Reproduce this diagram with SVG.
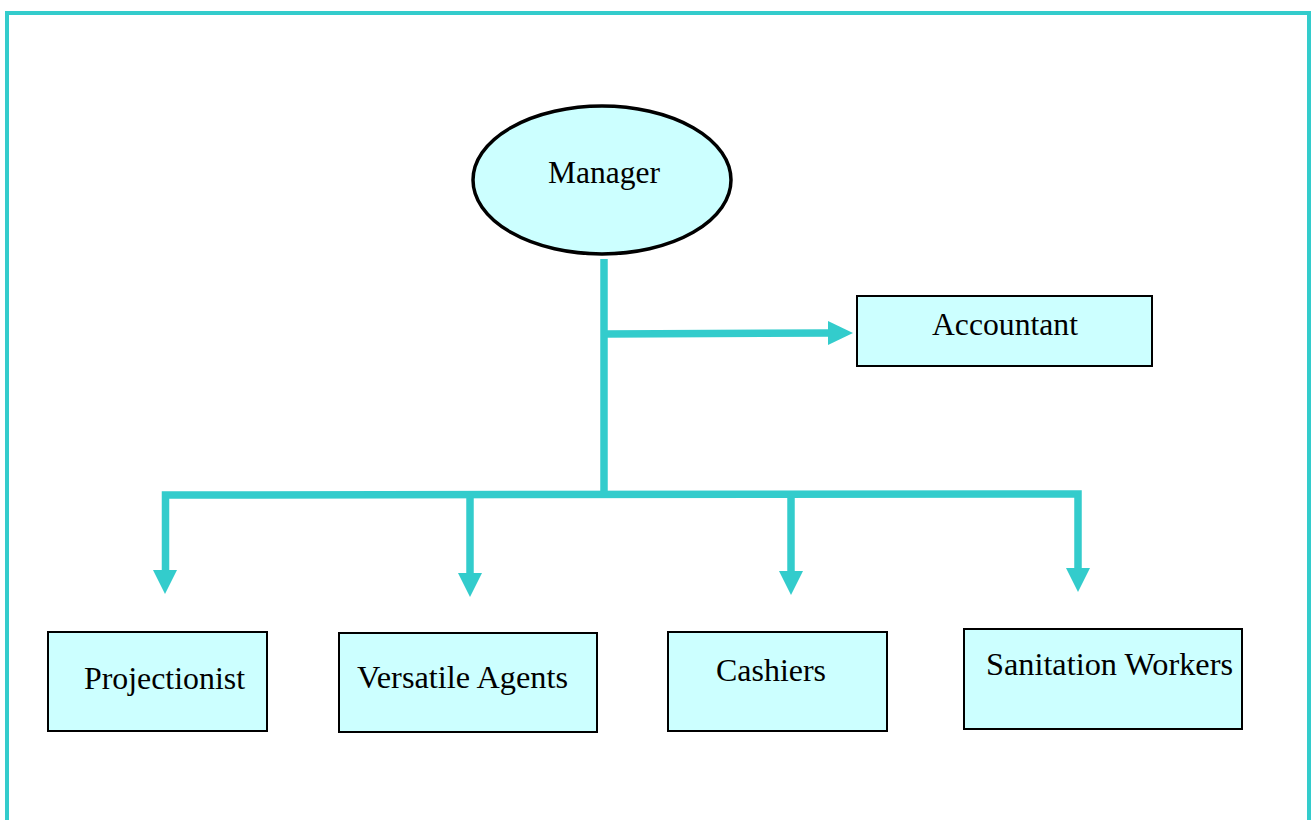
<svg xmlns="http://www.w3.org/2000/svg" width="1311" height="820" viewBox="0 0 1311 820">
<style>
.frame{fill:none;stroke:#33CCCC;stroke-width:4}
.node{fill:#CCFFFF;stroke:#000;stroke-width:2}
.oval{fill:#CCFFFF;stroke:#000;stroke-width:3.5}
.lbl{font-family:"Liberation Serif","Times New Roman",serif;font-size:31px;fill:#000;text-anchor:middle}
.wire{fill:none;stroke:#33CCCC;stroke-width:7.5}
.head{fill:#33CCCC}
</style>
<rect width="1311" height="820" fill="#fff"/>
<rect class="frame" x="7" y="13" width="1302" height="820"/>
<g id="connectors">
<line class="wire" x1="604" y1="259" x2="604" y2="498"/>
<line class="wire" x1="604" y1="334" x2="830" y2="333"/>
<polygon class="head" points="828,321 853,333 828,345"/>
<polyline class="wire" points="165.5,572 165.5,495 1078,494 1078,570"/>
<line class="wire" x1="470" y1="495" x2="470" y2="574"/>
<line class="wire" x1="791" y1="494" x2="791" y2="573"/>
<polygon class="head" points="153,570 177,570 165,594"/>
<polygon class="head" points="458,573 482,573 470,597"/>
<polygon class="head" points="779,571 803,571 791,595"/>
<polygon class="head" points="1066,568 1090,568 1078,592"/>
</g>
<g id="manager">
<ellipse class="oval" cx="602" cy="180" rx="129" ry="74"/>
<text class="lbl" x="604" y="183" textLength="112" lengthAdjust="spacingAndGlyphs">Manager</text>
</g>
<g id="accountant">
<rect class="node" x="857" y="296" width="295" height="70"/>
<text class="lbl" x="1005" y="335" textLength="146" lengthAdjust="spacingAndGlyphs">Accountant</text>
</g>
<g id="projectionist">
<rect class="node" x="48" y="632" width="219" height="99"/>
<text class="lbl" x="164.5" y="689" textLength="161" lengthAdjust="spacingAndGlyphs">Projectionist</text>
</g>
<g id="versatile-agents">
<rect class="node" x="339" y="633" width="258" height="99"/>
<text class="lbl" x="462.5" y="688" textLength="211" lengthAdjust="spacingAndGlyphs">Versatile Agents</text>
</g>
<g id="cashiers">
<rect class="node" x="668" y="632" width="219" height="99"/>
<text class="lbl" x="771" y="681" textLength="110" lengthAdjust="spacingAndGlyphs">Cashiers</text>
</g>
<g id="sanitation-workers">
<rect class="node" x="964" y="629" width="278" height="100"/>
<text class="lbl" x="1109.5" y="675" textLength="247" lengthAdjust="spacingAndGlyphs">Sanitation Workers</text>
</g>
</svg>
